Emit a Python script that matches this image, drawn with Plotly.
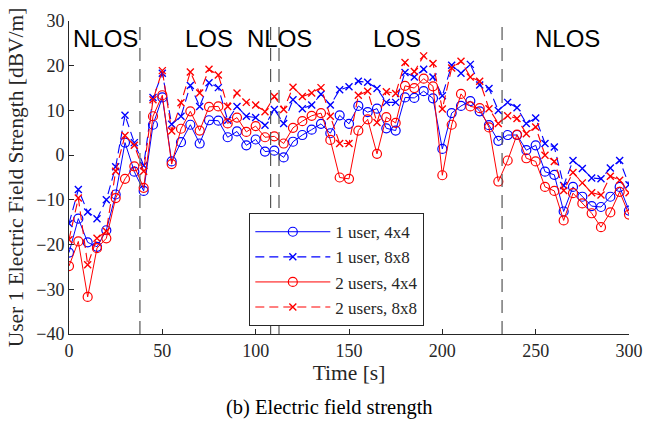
import plotly.graph_objects as go

time_s = [0, 5, 10, 15, 20, 25, 30, 35, 40, 45, 50, 55, 60, 65, 70, 75, 80, 85, 90, 95,
          100, 105, 110, 115, 120, 125, 130, 135, 140, 145, 150, 155, 160, 165, 170, 175,
          180, 185, 190, 195, 200, 205, 210, 215, 220, 225, 230, 235, 240, 245, 250, 255,
          260, 265, 270, 275, 280, 285, 290, 295, 300]

one_user_4x4 = [-21.8, -14.2, -19.5, -20.5, -16.8, -8.8, 2.8, -3.7, -8.0, 6.8, 12.9, -1.4, 2.9, 6.8, 2.6,
                7.8, 7.7, 4.0, 5.3, 2.2, 3.5, 0.8, 1.0, -0.5, 3.0, 4.5, 5.7, 7.0, 4.9, 8.9,
                7.0, 11.0, 9.6, 10.4, 6.0, 5.5, 12.9, 12.8, 14.3, 12.7, 1.4, 9.4, 11.0, 12.1, 9.8,
                6.7, 3.2, 4.5, 4.5, 1.1, 2.2, -3.7, -4.4, -12.6, -7.1, -9.3, -11.4, -11.6, -9.3, -7.1, -12.4]

one_user_8x8 = [-15.3, -7.7, -12.7, -14.2, -10.0, -2.6, 8.9, 2.8, -2.3, 12.9, 18.3, 6.9, 8.7, 15.6, 10.9,
                16.2, 15.1, 7.8, 10.9, 8.7, 8.4, 6.7, 10.2, 7.1, 12.4, 10.4, 11.2, 13.6, 11.2, 14.6,
                15.3, 16.5, 16.3, 14.9, 11.8, 11.8, 18.5, 17.5, 19.2, 17.5, 13.3, 20.1, 18.3, 20.3, 15.7,
                14.9, 10.0, 11.8, 10.6, 7.1, 8.3, 2.6, 1.8, -6.8, -1.2, -3.0, -5.1, -5.3, -2.9, -1.2, -6.6]

two_users_4x4 = [-24.8, -19.3, -31.7, -20.8, -18.6, -9.6, -5.3, -2.5, -7.3, 8.7, 13.4, -2.0, 5.9, 9.8, 5.5,
                 10.8, 10.9, 7.1, 8.4, 5.2, 6.5, 4.0, 4.2, 2.6, 6.1, 7.6, 8.8, 9.4, 3.4, -5.0,
                 -5.3, 5.5, 8.0, 0.3, 8.5, 7.2, 15.5, 15.0, 17.1, 15.4, -4.5, 6.8, 13.7, 10.9, 10.5,
                 6.2, -5.9, -1.2, 4.6, -0.7, -1.4, -7.1, -8.0, -14.6, -8.5, -10.8, -13.0, -16.1, -12.8, -8.2, -13.3]

two_users_8x8 = [-18.9, -9.6, -24.5, -18.6, -17.0, -3.6, 4.4, 2.2, -3.6, 12.4, 18.9, 5.4, 11.7, 18.6, 13.9,
                 19.2, 17.9, 10.9, 13.9, 11.8, 11.2, 9.7, 13.1, 10.2, 15.2, 13.1, 13.9, 15.1, 8.7, 2.6,
                 2.6, 13.4, 14.3, 7.3, 14.2, 13.8, 20.7, 18.7, 22.2, 20.5, 10.3, 19.5, 21.0, 17.5, 16.5,
                 10.4, 7.1, 8.8, 8.2, 4.8, 6.3, 0.0, -1.4, -7.9, -3.9, -6.2, -8.4, -8.9, -4.7, -5.6, -8.4]

series_names = ["1 user, 4x4", "1 user, 8x8", "2 users, 4x4", "2 users, 8x8"]

boundaries = [38, 108, 112.5, 232]
region_labels = ["NLOS", "LOS", "NLOS", "LOS", "NLOS"]
region_label_x = [19.8, 75, 112.5, 175.5, 267]
region_label_y = 26.1

x_ticks = [0, 50, 100, 150, 200, 250, 300]
y_ticks = [-40, -30, -20, -10, 0, 10, 20, 30]

BLUE = "#0000FF"
RED = "#FF0000"
AX = "#262626"
SERIF = "Liberation Serif"

fig = go.Figure()

def add(y, name, color, dashed):
    if dashed:
        marker = dict(symbol="x-thin", size=7, color=color, line=dict(width=1.4, color=color))
        line = dict(color=color, width=1.1, dash="9px,5px")
    else:
        marker = dict(symbol="circle-open", size=9, color=color, line=dict(width=1.2, color=color))
        line = dict(color=color, width=1)
    fig.add_trace(go.Scatter(x=time_s, y=y, name=name, mode="lines+markers",
                             line=line, marker=marker))

add(one_user_4x4, series_names[0], BLUE, False)
add(one_user_8x8, series_names[1], BLUE, True)
add(two_users_4x4, series_names[2], RED, False)
add(two_users_8x8, series_names[3], RED, True)

for b in boundaries:
    fig.add_shape(type="line", xref="x", yref="paper", x0=b, x1=b, y0=0, y1=1,
                  line=dict(color="#555555", width=1.2, dash="13px,8px"), layer="above")

for lab, lx in zip(region_labels, region_label_x):
    fig.add_annotation(x=lx, y=region_label_y, xref="x", yref="y", text=lab, showarrow=False,
                       font=dict(family="Liberation Sans", size=24, color="black"),
                       xanchor="center", yanchor="middle")

fig.add_annotation(x=0.466, y=-0.236, xref="paper", yref="paper", text="(b) Electric field strength",
                   showarrow=False, font=dict(family=SERIF, size=20.5, color="black"),
                   xanchor="center", yanchor="middle")

fig.update_layout(
    width=660, height=423,
    margin=dict(l=69, r=31, t=21, b=89),
    plot_bgcolor="white", paper_bgcolor="white",
    font=dict(family=SERIF, color=AX),
    showlegend=True,
    legend=dict(x=0.322, y=0.386, xanchor="left", yanchor="top",
                bgcolor="white", bordercolor=AX, borderwidth=1,
                font=dict(family=SERIF, size=17, color=AX),
                itemwidth=75, tracegroupgap=0),
    xaxis=dict(range=[0, 300], tickvals=x_ticks, showgrid=False, zeroline=False,
               showline=True, linecolor=AX, linewidth=1, ticks="inside", ticklen=5,
               tickcolor=AX, tickfont=dict(family=SERIF, size=18, color=AX),
               title=dict(text="Time [s]", font=dict(family=SERIF, size=21.5, color=AX), standoff=4)),
    yaxis=dict(range=[-40, 30], tickvals=y_ticks, showgrid=False, zeroline=False,
               showline=True, linecolor=AX, linewidth=1, ticks="inside", ticklen=5,
               tickcolor=AX, tickfont=dict(family=SERIF, size=18, color=AX),
               title=dict(text="User 1 Electric Field Strength [dBV/m]",
                          font=dict(family=SERIF, size=21.5, color=AX), standoff=6)),
)

fig.write_html("out.html")
